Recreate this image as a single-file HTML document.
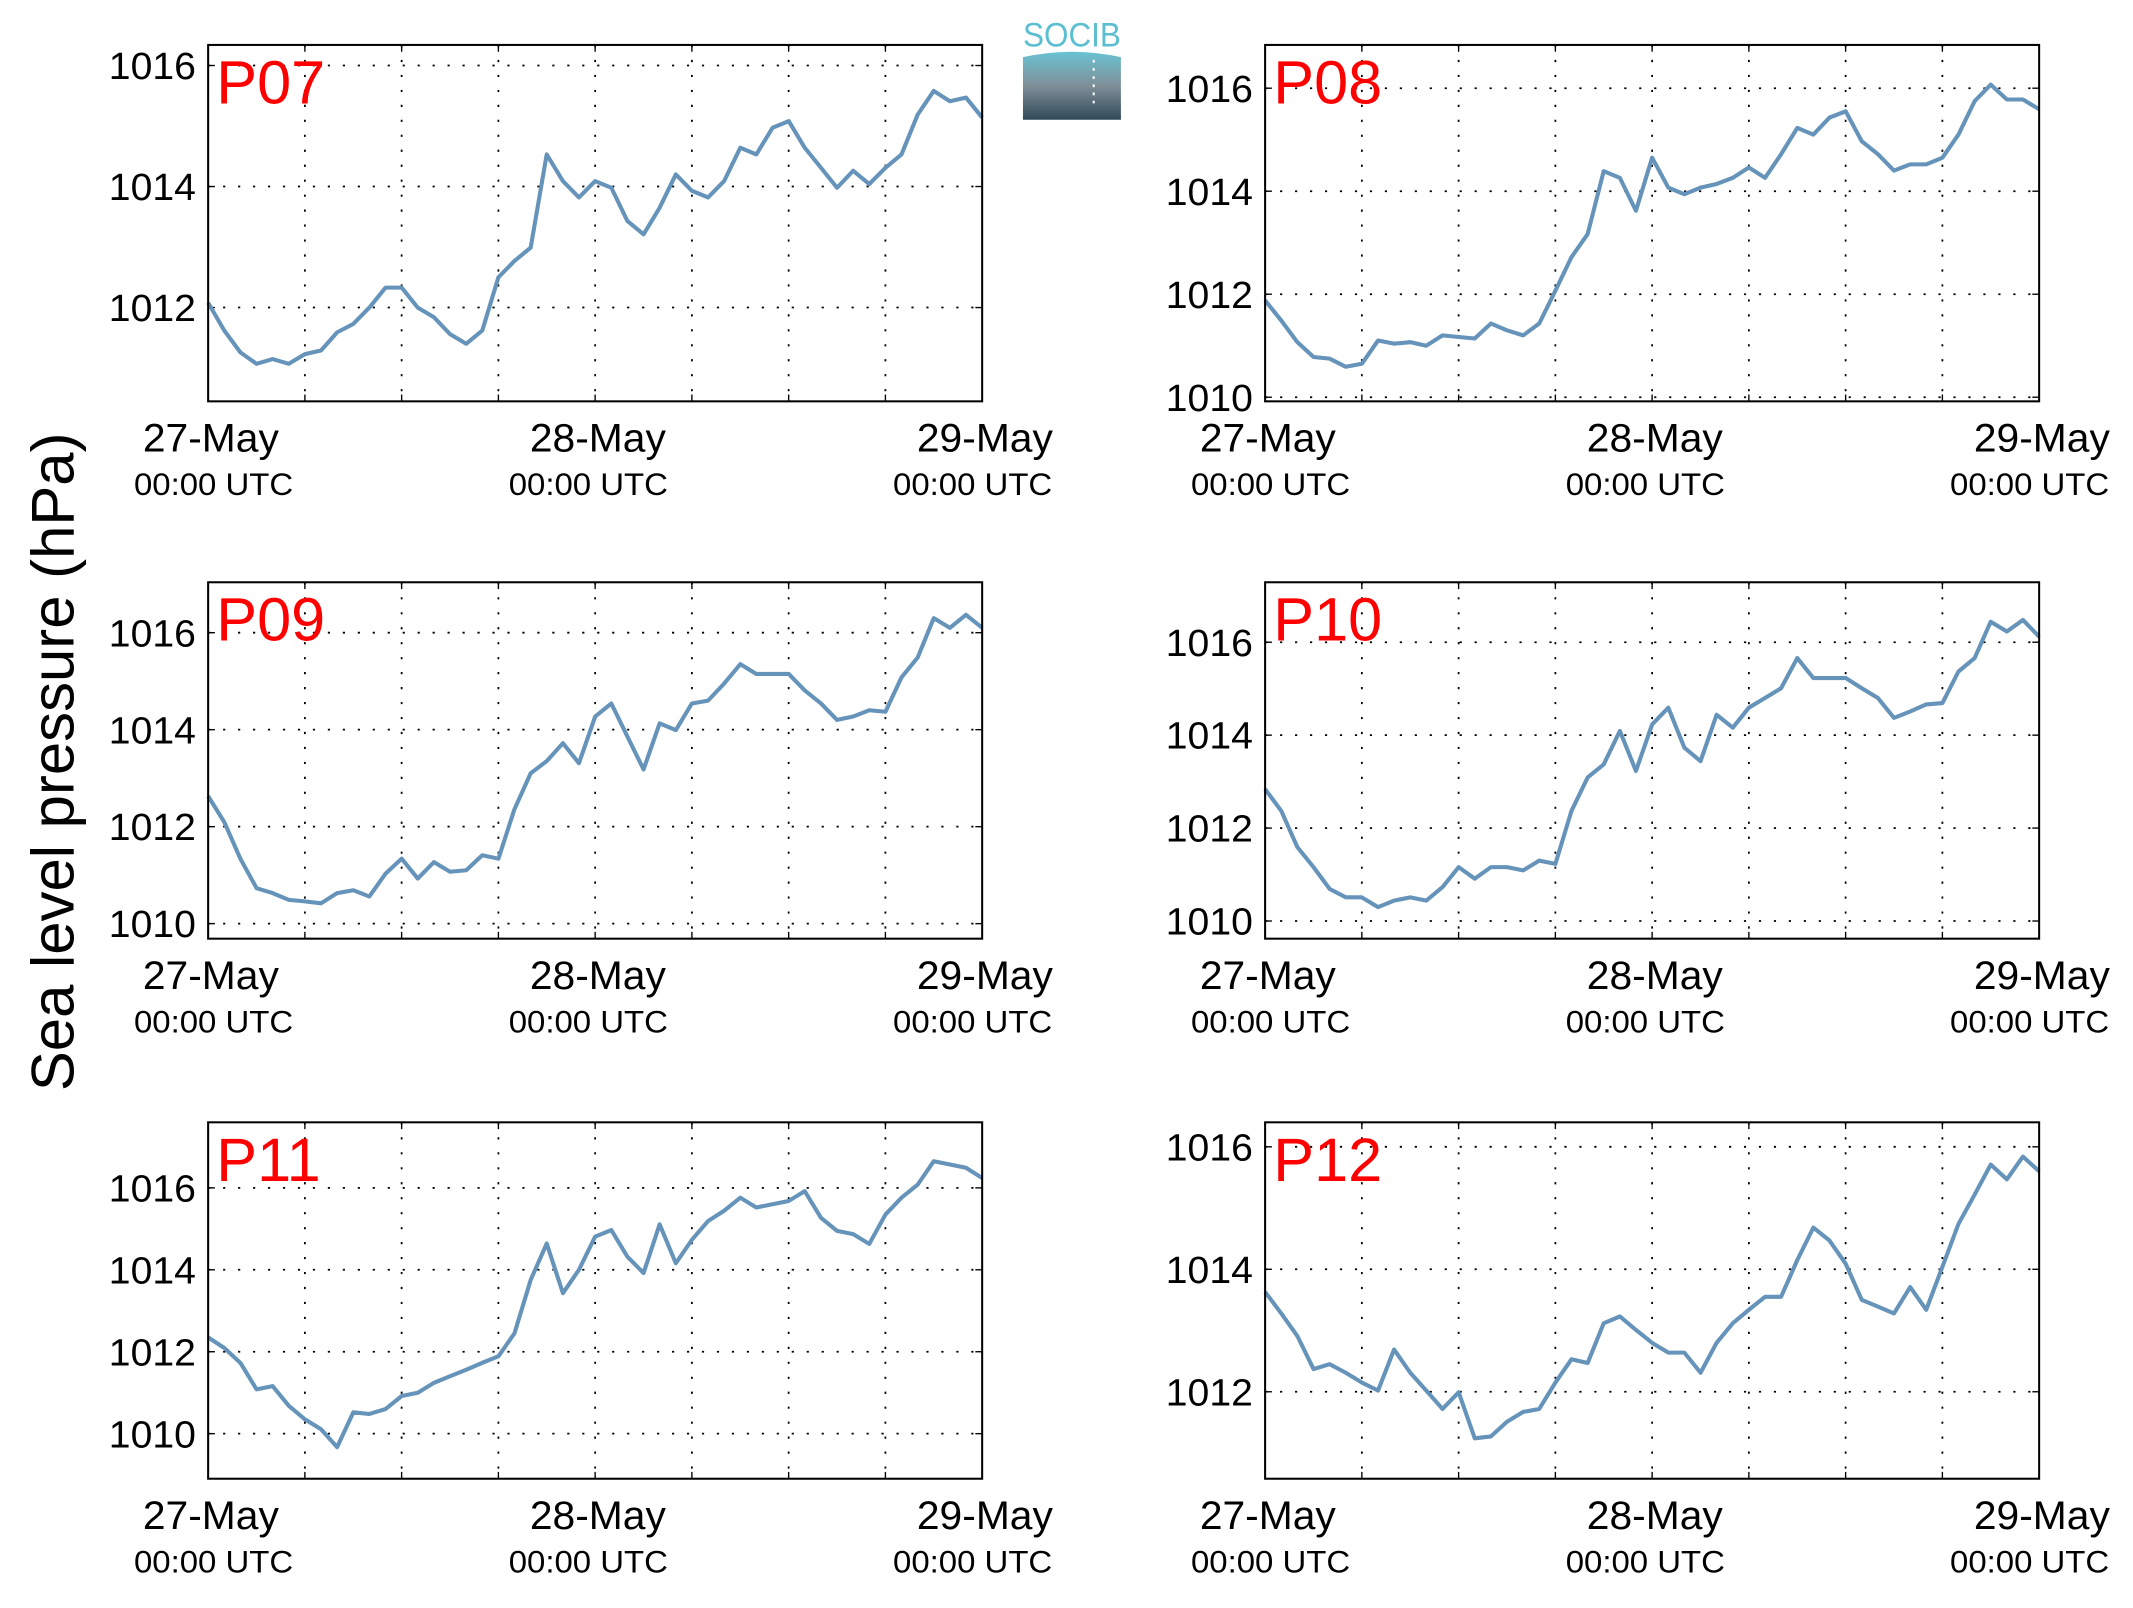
<!DOCTYPE html>
<html><head><meta charset="utf-8"><style>
html,body{margin:0;padding:0;background:#fff;}
svg{display:block;font-family:"Liberation Sans",sans-serif;}
</style></head><body>
<svg id="fig" width="2133" height="1608" viewBox="0 0 1568 1182" xmlns="http://www.w3.org/2000/svg">
<rect width="1568" height="1182" fill="#fff"/>
<text transform="translate(54,560) rotate(-90)" text-anchor="middle" font-size="44" fill="#000">Sea level pressure (hPa)</text>
<g>
<defs><linearGradient id="lg" x1="0" y1="0" x2="0" y2="1"><stop offset="0" stop-color="#6ac3d3"/><stop offset="0.5" stop-color="#7f8f98"/><stop offset="1" stop-color="#2f4a58"/></linearGradient></defs>
<text x="788" y="34" text-anchor="middle" font-size="25" fill="#5bbfd1" textLength="72" lengthAdjust="spacingAndGlyphs">SOCIB</text>
<path d="M752,42 Q788,34 824,42 L824,88 L752,88 Z" fill="url(#lg)"/>
<line x1="804" y1="44" x2="804" y2="80" stroke="#fff" stroke-width="1.5" stroke-dasharray="2,4"/>
</g>
<g id="panels"></g>
</svg>
<script>
const hours = [0,1,2,3,4,5,6,7,8,9,10,11,12,13,14,15,16,17,18,19,20,21,22,23,24,25,26,27,28,29,30,31,32,33,34,35,36,37,38,39,40,41,42,43,44,45,46,47,48];
const dateLabels = ["27-May","28-May","29-May"];
const timeLabel = "00:00 UTC";
const p07 = [1012.08,1011.62,1011.26,1011.07,1011.15,1011.07,1011.23,1011.29,1011.59,1011.73,1012.0,1012.33,1012.33,1012.0,1011.84,1011.56,1011.4,1011.62,1012.5,1012.77,1012.99,1014.53,1014.09,1013.82,1014.09,1013.98,1013.43,1013.21,1013.65,1014.2,1013.93,1013.82,1014.09,1014.64,1014.53,1014.97,1015.08,1014.64,1014.31,1013.98,1014.26,1014.04,1014.31,1014.53,1015.19,1015.58,1015.41,1015.47,1015.14];
const p08 = [1011.88,1011.49,1011.07,1010.78,1010.75,1010.59,1010.65,1011.1,1011.04,1011.07,1011.0,1011.2,1011.17,1011.14,1011.43,1011.3,1011.2,1011.43,1012.07,1012.72,1013.17,1014.39,1014.26,1013.62,1014.65,1014.07,1013.94,1014.07,1014.14,1014.26,1014.46,1014.26,1014.72,1015.23,1015.1,1015.43,1015.55,1014.97,1014.72,1014.4,1014.52,1014.52,1014.65,1015.1,1015.75,1016.07,1015.78,1015.78,1015.59];
const p09 = [1012.63,1012.09,1011.34,1010.73,1010.63,1010.49,1010.46,1010.42,1010.63,1010.69,1010.56,1011.03,1011.34,1010.93,1011.27,1011.07,1011.1,1011.41,1011.34,1012.36,1013.1,1013.35,1013.72,1013.31,1014.27,1014.54,1013.86,1013.18,1014.13,1013.99,1014.54,1014.6,1014.95,1015.35,1015.15,1015.15,1015.15,1014.81,1014.54,1014.2,1014.27,1014.4,1014.37,1015.08,1015.49,1016.3,1016.1,1016.37,1016.1];
const p10 = [1012.84,1012.37,1011.59,1011.16,1010.69,1010.51,1010.51,1010.3,1010.44,1010.51,1010.44,1010.73,1011.16,1010.91,1011.16,1011.16,1011.09,1011.3,1011.23,1012.37,1013.09,1013.37,1014.09,1013.23,1014.23,1014.59,1013.73,1013.44,1014.44,1014.16,1014.59,1014.8,1015.01,1015.66,1015.23,1015.23,1015.23,1015.01,1014.8,1014.37,1014.51,1014.66,1014.69,1015.37,1015.66,1016.44,1016.23,1016.48,1016.12];
const p11 = [1012.35,1012.09,1011.73,1011.08,1011.16,1010.68,1010.35,1010.11,1009.67,1010.52,1010.48,1010.6,1010.92,1011.0,1011.24,1011.4,1011.56,1011.73,1011.89,1012.45,1013.75,1014.64,1013.43,1014.0,1014.81,1014.97,1014.32,1013.92,1015.11,1014.16,1014.73,1015.19,1015.44,1015.76,1015.52,1015.6,1015.68,1015.92,1015.27,1014.95,1014.87,1014.63,1015.35,1015.76,1016.08,1016.65,1016.57,1016.49,1016.24];
const p12 = [1013.63,1013.28,1012.91,1012.37,1012.45,1012.31,1012.15,1012.02,1012.69,1012.31,1012.02,1011.72,1011.99,1011.24,1011.27,1011.51,1011.67,1011.72,1012.15,1012.53,1012.47,1013.12,1013.23,1013.01,1012.8,1012.64,1012.64,1012.31,1012.8,1013.12,1013.34,1013.55,1013.55,1014.15,1014.68,1014.47,1014.09,1013.5,1013.39,1013.28,1013.71,1013.34,1014.04,1014.74,1015.22,1015.71,1015.47,1015.84,1015.6];
const names = ["P07","P08","P09","P10","P11","P12"];
const series = [p07,p08,p09,p10,p11,p12];
const yMins = [1010.45,1009.92,1009.69,1009.62,1008.9,1010.58];
const yMaxs = [1016.34,1016.84,1017.04,1017.29,1017.6,1016.4];
const yTicks0 = [1012,1014,1016];
const yTicks1 = [1010,1012,1014,1016];
const yTicks2 = [1010,1012,1014,1016];
const yTicks3 = [1010,1012,1014,1016];
const yTicks4 = [1010,1012,1014,1016];
const yTicks5 = [1012,1014,1016];
const yTicksAll = [yTicks0,yTicks1,yTicks2,yTicks3,yTicks4,yTicks5];

const NS = "http://www.w3.org/2000/svg";
const root = document.getElementById("panels");
function mk(tag, attrs, parent){ const e=document.createElementNS(NS,tag); for(const k in attrs) e.setAttribute(k,attrs[k]); parent.appendChild(e); return e; }
const L=[153,930], W=569, T=[33,428,825], H=262;
for(let p=0;p<6;p++){
  const x0=L[p%2], y0=T[Math.floor(p/2)];
  const g=mk("g",{},root);
  
  
  const xs=h=>x0+h/48*W;
  const ys=v=>y0+H-(v-yMins[p])/(yMaxs[p]-yMins[p])*H;
  for(let h=6;h<48;h+=6){
    const l=mk("line",{x1:xs(h),x2:xs(h),y1:y0,y2:y0+H,stroke:"#000","stroke-width":1.3,"stroke-dasharray":"1.6,9.4"},g);
    
    
    mk("line",{x1:xs(h),x2:xs(h),y1:y0,y2:y0+5,stroke:"#000","stroke-width":1},g);
    mk("line",{x1:xs(h),x2:xs(h),y1:y0+H,y2:y0+H-5,stroke:"#000","stroke-width":1},g);
  }
  yTicksAll[p].forEach(v=>{
    const y=ys(v);
    const l=mk("line",{x1:x0,x2:x0+W,y1:y,y2:y,stroke:"#000","stroke-width":1.3,"stroke-dasharray":"1.6,9.4"},g);
    
    
    mk("line",{x1:x0,x2:x0+5,y1:y,y2:y,stroke:"#000","stroke-width":1},g);
    mk("line",{x1:x0+W,x2:x0+W-5,y1:y,y2:y,stroke:"#000","stroke-width":1},g);
    const t=mk("text",{x:x0-9,y:y+10,"text-anchor":"end","font-size":28,fill:"#000","textLength":64,"lengthAdjust":"spacingAndGlyphs"},g);
    t.textContent=v;
    
    
  });
  const pts=series[p].map((v,i)=>xs(hours[i]).toFixed(1)+","+ys(v).toFixed(1)).join(" ");
  const pl=mk("polyline",{points:pts,fill:"none",stroke:"#6593b9","stroke-width":3,"stroke-linejoin":"round"},g);
  
  
  const box=mk("rect",{x:x0,y:y0,width:W,height:H,fill:"none",stroke:"#000","stroke-width":1.5},g);
  
  
  const lab=mk("text",{x:x0+6,y:y0+43,"font-size":45,fill:"#ff0000"},g);
  lab.textContent=names[p];
  
  
  dateLabels.forEach((d,i)=>{
    const cx=xs(i*24);
    const t1=mk("text",{x:cx+2,y:y0+H+37,"text-anchor":"middle","font-size":29,fill:"#000","textLength":100,"lengthAdjust":"spacingAndGlyphs"},g);
    t1.textContent=d;
    
    
    const t2=mk("text",{x:cx-(i==2?7:(i==0?-4:5)),y:y0+H+69,"text-anchor":"middle","font-size":23,fill:"#000","textLength":117,"lengthAdjust":"spacingAndGlyphs"},g);
    t2.textContent=timeLabel;
    
    
  });
}
</script>
</body></html>
